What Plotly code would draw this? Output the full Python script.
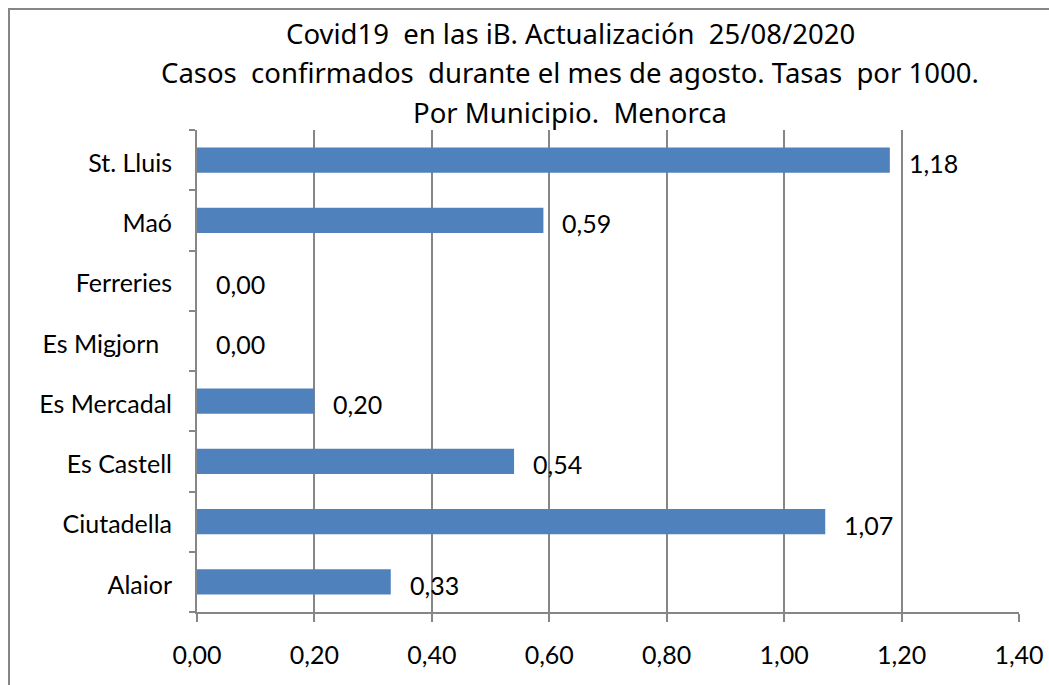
import plotly.graph_objects as go

municipios = ["Alaior", "Ciutadella", "Es Castell", "Es Mercadal",
              "Es Migjorn\u00a0\u00a0", "Ferreries", "Maó", "St. Lluis"]
tasas = [0.33, 1.07, 0.54, 0.20, 0.00, 0.00, 0.59, 1.18]
x_ticks = [0.0, 0.2, 0.4, 0.6, 0.8, 1.0, 1.2, 1.4]
x_tick_labels = [f"{v:.2f}".replace(".", ",") for v in x_ticks]
title_lines = ["Covid19  en las iB. Actualización  25/08/2020",
               "Casos  confirmados  durante el mes de agosto. Tasas  por 1000.",
               "Por Municipio.  Menorca"]

W, H = 1049, 685
L, T = 197, 130
R = W - 1019
B = H - 612
pw, ph = W - L - R, H - T - B

AX = "#868686"
FONT_AX = "Lato"
FONT_T = "Noto Sans"

fig = go.Figure()
fig.add_trace(go.Bar(
    y=municipios, x=tasas, orientation="h",
    marker=dict(color="#4F81BD", line=dict(width=0)),
    hoverinfo="x+y",
))

for m, v in zip(municipios, tasas):
    fig.add_annotation(x=v, y=m, xref="x", yref="y",
                       text=f"{v:.2f}".replace(".", ","),
                       showarrow=False, xanchor="left", yanchor="middle",
                       xshift=17, yshift=-3,
                       font=dict(family=FONT_AX, size=25, color="#000000"))

title_y = [33, 73, 113]
for line, yp in zip(title_lines, title_y):
    fig.add_annotation(x=(570 - L) / pw, y=(H - B - yp) / ph,
                       xref="paper", yref="paper",
                       text=line, showarrow=False, xanchor="center", yanchor="middle",
                       font=dict(family=FONT_T, size=27.5, color="#000000"))

# outer chart border
fig.add_shape(type="rect", xref="paper", yref="paper",
              x0=(9 - L) / pw, x1=(1080 - L) / pw,
              y0=(H - B - 720) / ph, y1=(H - B - 9) / ph,
              line=dict(color=AX, width=2), fillcolor="rgba(0,0,0,0)", layer="below")

fig.update_layout(
    width=W, height=H,
    margin=dict(l=L, r=R, t=T, b=B, pad=0, autoexpand=False),
    paper_bgcolor="white", plot_bgcolor="white",
    showlegend=False,
    bargap=0.585,
    separators=", ",
    xaxis=dict(range=[0, 1.4], tickvals=x_ticks, ticktext=x_tick_labels,
               showgrid=True, gridcolor=AX, gridwidth=2,
               showline=True, linecolor=AX, linewidth=2,
               ticks="outside", ticklen=8, tickcolor=AX, tickwidth=2,
               tickfont=dict(family=FONT_AX, size=25, color="#000000"),
               ticklabelstandoff=12, ticklabeloverflow="allow", automargin=False,
               zeroline=False, fixedrange=True),
    yaxis=dict(type="category", categoryorder="array", categoryarray=municipios,
               showgrid=False, showline=True, linecolor=AX, linewidth=2,
               ticks="outside", ticklen=6, tickcolor=AX, tickwidth=2,
               tickson="boundaries", automargin=False,
               tickfont=dict(family=FONT_AX, size=25, color="#000000"),
               ticklabelstandoff=18, ticklabelshift=3, fixedrange=True),
)

fig.write_html("out.html",
               config={"displayModeBar": False},
               post_script="document.body.style.margin='0';"
                           "document.body.style.overflow='hidden';")
